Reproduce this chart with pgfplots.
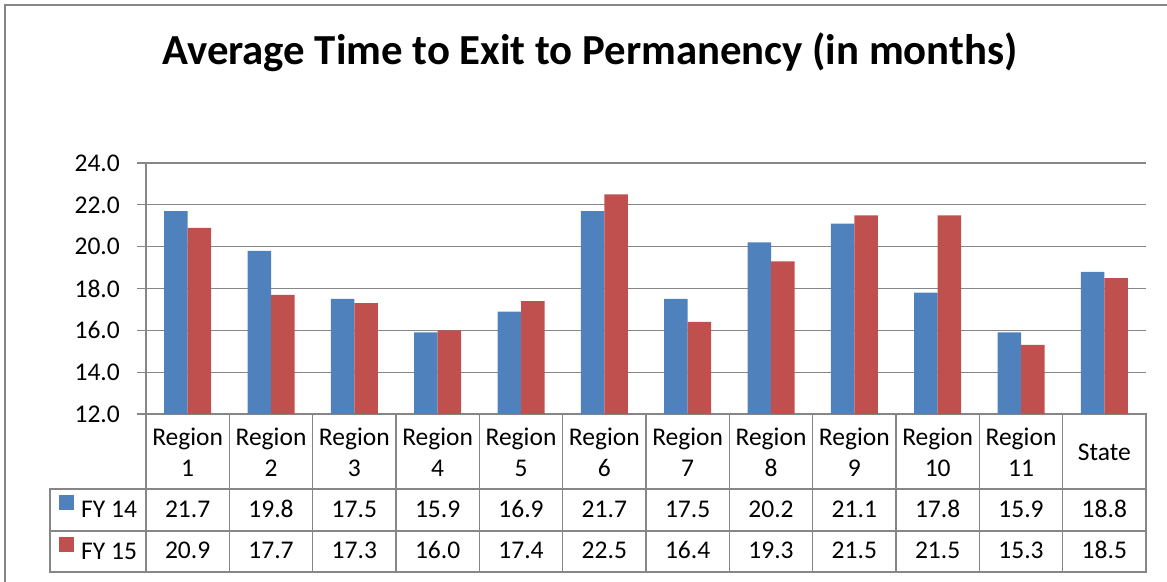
\documentclass[border=0pt]{standalone}
\usepackage{pgfplots}
\pgfplotsset{compat=1.18}
\usepackage{pgfplotstable}
\usepackage{fontspec}
\setmainfont{Carlito}

\definecolor{fyblue}{RGB}{79,129,189}
\definecolor{fyred}{RGB}{192,80,77}
\definecolor{linegray}{RGB}{134,134,134}

\newcommand{\tablefont}{\fontsize{25.5bp}{31bp}\selectfont}

% average months to permanency, by region
\pgfplotstableread{
x   fy14  fy15
0   21.7  20.9
1   19.8  17.7
2   17.5  17.3
3   15.9  16.0
4   16.9  17.4
5   21.7  22.5
6   17.5  16.4
7   20.2  19.3
8   21.1  21.5
9   17.8  21.5
10  15.9  15.3
11  18.8  18.5
}\data

\begin{document}
\begin{tikzpicture}
\useasboundingbox (0,0) rectangle (1167bp,582bp);
% chart frame
\draw[linegray, line width=1.5bp] (5bp,-5bp) -- (5bp,577bp) -- (1180bp,577bp);
\node[anchor=base, inner sep=0pt, font=\fontsize{42.8bp}{50bp}\selectfont\bfseries]
  at (590bp,517bp) {Average Time to Exit to Permanency (in months)};

\begin{axis}[
  at={(146bp,168bp)}, anchor=south west,
  scale only axis, width=1000bp, height=251bp,
  xmin=-0.5, xmax=11.5, ymin=12, ymax=24,
  clip mode=individual,
  axis line style={draw=none},
  ytick={12,14,...,24},
  ytick pos=left,
  tick align=outside,
  major tick length=9bp,
  ytick style={linegray, line width=1.2bp},
  xtick style={draw=none},
  ymajorgrids,
  major grid style={linegray, line width=1.2bp},
  yticklabel style={font=\tablefont, anchor=east, inner sep=0pt, xshift=-17bp,
    /pgf/number format/.cd, fixed, fixed zerofill, precision=1, assume math mode=true},
  xtick={0,...,11},
  xticklabels={{Region\\1},{Region\\2},{Region\\3},{Region\\4},{Region\\5},{Region\\6},
    {Region\\7},{Region\\8},{Region\\9},{Region\\10},{Region\\11},{State}},
  xticklabel style={font=\tablefont, align=center, anchor=center, inner sep=0pt, yshift=-29.25bp},
  legend style={at={(axis description cs:0,0)}, anchor=north east, xshift=-9bp, yshift=-75bp,
    draw=none, fill=none, inner sep=0pt, outer sep=0pt, row sep=0pt, column sep=7bp,
    nodes={inner sep=0pt, minimum height=42bp, font=\tablefont}},
  legend cell align=left,
  legend image code/.code={\path[#1, draw=none] (0bp,0.3bp) rectangle (15bp,15.5bp);},
]
\addplot[ybar, bar width=23.5bp, bar shift=-11.75bp, fill=fyblue, draw=none]
  table[x=x, y=fy14] {\data};
\addlegendentry{FY 14}
\addplot[ybar, bar width=23.5bp, bar shift=11.75bp, fill=fyred, draw=none]
  table[x=x, y=fy15] {\data};
\addlegendentry{FY 15}

% data table grid
\draw[linegray, line width=1.5bp, line cap=rect] (axis cs:-0.5,24) -- ([yshift=-158bp]axis cs:-0.5,12);
\pgfplotsinvokeforeach{0.5,1.5,...,11.5}{
  \draw[linegray, line width=1.5bp, line cap=rect] (axis cs:#1,12) -- ([yshift=-158bp]axis cs:#1,12);
}
\draw[linegray, line width=1.5bp, line cap=rect] ([xshift=-96bp,yshift=-75bp]axis cs:-0.5,12) -- ([yshift=-75bp]axis cs:11.5,12);
\draw[linegray, line width=1.5bp, line cap=rect] ([xshift=-96bp,yshift=-117bp]axis cs:-0.5,12) -- ([yshift=-117bp]axis cs:11.5,12);
\draw[linegray, line width=1.5bp, line cap=rect] ([xshift=-96bp,yshift=-158bp]axis cs:-0.5,12) -- ([yshift=-158bp]axis cs:11.5,12);
\draw[linegray, line width=1.5bp, line cap=rect] ([xshift=-96bp,yshift=-75bp]axis cs:-0.5,12) -- ([xshift=-96bp,yshift=-158bp]axis cs:-0.5,12);

% data table values
\pgfplotsinvokeforeach{0,...,11}{
  \pgfplotstablegetelem{#1}{fy14}\of\data
  \edef\cellA{\pgfplotsretval}
  \pgfplotstablegetelem{#1}{fy15}\of\data
  \edef\cellB{\pgfplotsretval}
  \edef\next{%
    \noexpand\node[anchor=base, inner sep=0pt, font=\noexpand\tablefont] at ([yshift=-103bp]axis cs:#1,12) {\cellA};
    \noexpand\node[anchor=base, inner sep=0pt, font=\noexpand\tablefont] at ([yshift=-144bp]axis cs:#1,12) {\cellB};}
  \next
}
\end{axis}
\end{tikzpicture}
\end{document}
